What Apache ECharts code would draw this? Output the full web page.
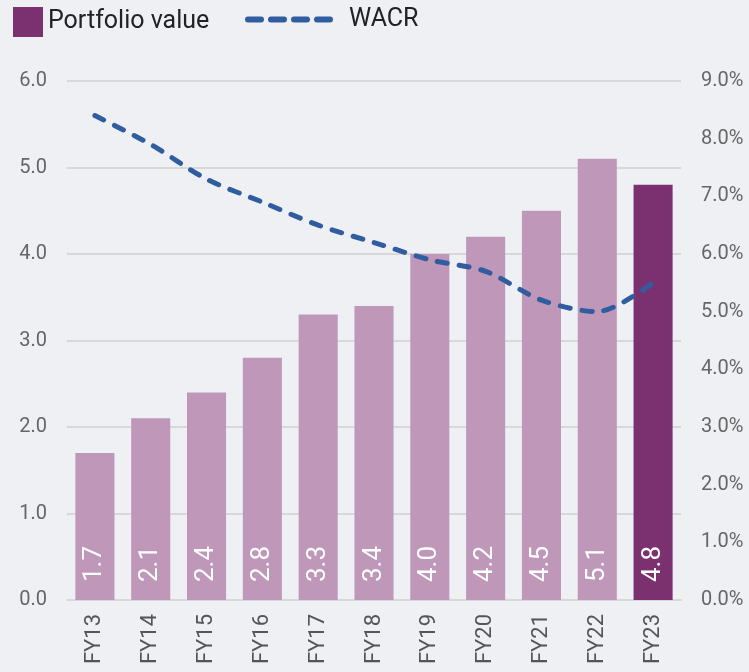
<!DOCTYPE html>
<html>
<head>
<meta charset="utf-8">
<script src="https://cdn.jsdelivr.net/npm/echarts@6/dist/echarts.min.js"></script>
<style>
  html, body { margin: 0; padding: 0; background: #eef0f4; }
  #chart { width: 749px; height: 672px; }
</style>
</head>
<body>
<div id="chart"></div>
<script>
const years = ['FY13', 'FY14', 'FY15', 'FY16', 'FY17', 'FY18', 'FY19', 'FY20', 'FY21', 'FY22', 'FY23'];
const portfolioValue = [1.7, 2.1, 2.4, 2.8, 3.3, 3.4, 4.0, 4.2, 4.5, 5.1, 4.8];
const wacr = [8.4, 7.9, 7.3, 6.9, 6.5, 6.2, 5.9, 5.7, 5.2, 5.0, 5.5];

const lightBar = '#be97b9';
const darkBar = '#7b3170';
const lineBlue = '#2f5da0';
const font = 'Roboto, "Liberation Sans", sans-serif';

// four rounded dashes for the WACR legend icon
const dash = x => 'M' + (x + 3) + ',0h13a3,3 0 0 1 0,6h-13a3,3 0 0 1 0,-6z';
const dashIcon = 'path://' + [0, 23, 46, 69].map(dash).join(' ');

const chart = echarts.init(document.getElementById('chart'));

const barData = portfolioValue.map((v, i) => ({
  value: v,
  itemStyle: { color: i === portfolioValue.length - 1 ? darkBar : lightBar }
}));

const options = {
  backgroundColor: '#eef0f4',
  textStyle: { fontFamily: font },
  legend: [
    {
      data: ['Portfolio value'],
      left: 8,
      top: 2,
      itemWidth: 30,
      itemHeight: 30,
      itemGap: 10,
      icon: 'rect',
      textStyle: { fontSize: 25, color: '#222', fontFamily: font }
    },
    {
      data: [{ name: 'WACR', icon: dashIcon }],
      left: 240,
      top: 2,
      itemWidth: 88,
      itemHeight: 6,
      itemGap: 14,
      itemStyle: { color: lineBlue },
      lineStyle: { width: 0 },
      textStyle: { fontSize: 25, color: '#222', fontFamily: font, padding: [0, 0, 0, 11] }
    }
  ],
  grid: { left: 67, right: 68, top: 81, bottom: 72 },
  xAxis: {
    type: 'category',
    data: years,
    axisTick: { show: false },
    axisLine: { lineStyle: { color: '#d8d8d8', width: 2 } },
    axisLabel: { rotate: 90, fontSize: 22, color: '#555', margin: 14, fontFamily: font }
  },
  yAxis: [
    {
      type: 'value',
      min: 0,
      max: 6,
      interval: 1,
      axisLabel: {
        fontSize: 20, color: '#666', margin: 20, fontFamily: font,
        formatter: v => v.toFixed(1)
      },
      splitLine: { lineStyle: { color: '#d8d8d8', width: 2 } }
    },
    {
      type: 'value',
      min: 0,
      max: 9,
      interval: 1,
      axisLabel: {
        fontSize: 20, color: '#666', margin: 20, fontFamily: font,
        formatter: v => v.toFixed(1) + '%'
      },
      splitLine: { show: false }
    }
  ],
  series: [
    {
      name: 'Portfolio value',
      type: 'bar',
      data: barData,
      barWidth: '70%',
      itemStyle: { color: darkBar },
      label: {
        show: true,
        position: 'insideBottom',
        rotate: 90,
        align: 'left',
        verticalAlign: 'middle',
        distance: 18,
        color: '#fff',
        fontSize: 26,
        fontFamily: font,
        formatter: p => p.value.toFixed(1)
      }
    },
    {
      name: 'WACR',
      type: 'line',
      yAxisIndex: 1,
      data: wacr,
      smooth: 0.3,
      symbol: 'none',
      itemStyle: { color: lineBlue },
      lineStyle: { color: lineBlue, width: 5, type: [10, 12], cap: 'round' },
      z: 5
    }
  ]
};

chart.setOption(options);
</script>
</body>
</html>
